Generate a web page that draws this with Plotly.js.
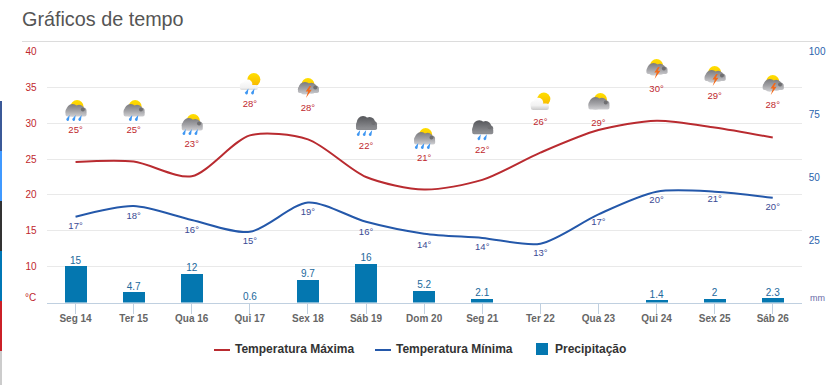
<!DOCTYPE html>
<html><head><meta charset="utf-8">
<script src="https://cdn.plot.ly/plotly-3.0.1.min.js"></script>
<style>html,body{margin:0;padding:0;background:#fff;overflow:hidden}#c{width:837px;height:385px}</style>
</head><body><div id="c"></div>
<script>
const categories=['Seg 14','Ter 15','Qua 16','Qui 17','Sex 18','Sáb 19','Dom 20','Seg 21','Ter 22','Qua 23','Qui 24','Sex 25','Sáb 26'];
const tempMax=[24.6,24.65,22.6,28.3,27.75,22.5,20.75,22.1,25.9,29.05,30.35,29.4,28];
const tempMin=[16.95,18.45,16.5,14.85,18.95,16.25,14.6,14.0,13.2,17.3,20.45,20.45,19.6];
const precip=[15,4.7,12,0.6,9.7,16,5.2,2.1,null,null,1.4,2,2.3];
const maxLabels=[25,25,23,28,28,22,21,22,26,29,30,29,28];
const minLabels=[17,18,16,15,19,16,14,14,13,17,20,21,20];
const maxLabelLevels=[28.98,28.98,27.02,32.6,32.05,26.74,25.07,26.16,30.09,29.95,34.7,33.72,32.46];
const minLabelLevels=[15.58,16.97,15.02,13.49,17.53,14.74,13.0,12.65,11.81,16.14,19.21,19.28,18.23];
const iconKinds=['rainSun3','rainSun2','rainSun3','shower','storm','dark3','rainSun3','dark2','sunCloud','greySun','storm','storm','storm'];
const leftTicks=[10,15,20,25,30,35,40];
const rightTicks=[25,50,75,100];
const seriesNames=['Temperatura Máxima','Temperatura Mínima','Precipitação'];
const stripeColors=['#3b5998','#4099ff','#333333','#0077b5','#cb2027','#cccccc'];

const W=837,H=385,L=46.5,R=801.8,T=51.5,B=302.5;
const fx=p=>p/W, fy=p=>1-p/H;
const font='"Liberation Sans",Arial,sans-serif';
const pxPerCat=(R-L)/13, pxPerDeg=(B-T)/35;

function drops(n,y0){
  const xs=n===3?[4.5,10.5,16.5]:[9,15];
  return xs.map(x=>`<path d="M${x+1.6} ${y0} L${x-1.6} ${y0+3.8} a1.4 1.4 0 0 0 2.5 1.3 z" fill="#3f97f2"/>`).join('');
}
function cloud(fill,bottom,lift){
  const h=bottom-12.5;
  return `<g fill="${fill}"><circle cx="9" cy="${11.8-lift}" r="6.3"/><circle cx="15.5" cy="${11.8-lift}" r="5.5"/><circle cx="19.5" cy="12.5" r="3.5"/><circle cx="5.5" cy="13" r="3.6"/><rect x="2" y="12.5" width="21" height="${h}" rx="1.8"/></g><circle cx="19.3" cy="11" r="2" fill="#6f6f72"/>`;
}
const defs=`<defs><linearGradient id="g" gradientUnits="userSpaceOnUse" x1="0" y1="5" x2="0" y2="18"><stop offset="0" stop-color="#77777b"/><stop offset=".55" stop-color="#a2a2a6"/><stop offset="1" stop-color="#cfcfd2"/></linearGradient><linearGradient id="d" gradientUnits="userSpaceOnUse" x1="0" y1="2" x2="0" y2="16"><stop offset="0" stop-color="#4c4d51"/><stop offset="1" stop-color="#8b8c90"/></linearGradient><linearGradient id="w" gradientUnits="userSpaceOnUse" x1="0" y1="7" x2="0" y2="20"><stop offset="0" stop-color="#ffffff"/><stop offset=".6" stop-color="#f2f2f2"/><stop offset="1" stop-color="#c4c4c4"/></linearGradient><linearGradient id="s" x1="0" y1="0" x2="0" y2="1"><stop offset="0" stop-color="#ffdf00"/><stop offset="1" stop-color="#f8b800"/></linearGradient></defs>`;
const sunTop=cx=>`<circle cx="${cx}" cy="8" r="6.5" fill="url(#s)"/>`;
function iconSvg(k){
  let b='';
  if(k.startsWith('rainSun')) b=sunTop(13.5)+cloud('url(#g)',18,0)+drops(+k.slice(-1),16.5);
  else if(k==='greySun') b=sunTop(14)+cloud('url(#g)',18,0)  ;
  else if(k==='storm') b=sunTop(12)+cloud('url(#g)',16.5,0)+`<path d="M13.5 9.5 L9.8 15 L12.2 15 L10 21.5 L15.8 13.2 L13.2 13.2 L15.2 9.5 z" fill="#f26a1b"/>`;
  else if(k.startsWith('dark')) b=`<g transform="translate(0,-2.5)">`+cloud('url(#d)',18,1.5)+`</g>`+drops(+k.slice(-1),15.5);
  else if(k==='shower') b=`<circle cx="16" cy="7" r="6.5" fill="url(#s)"/><g fill="url(#w)"><circle cx="5.5" cy="13.5" r="3.5"/><circle cx="10" cy="11.5" r="4.5"/><rect x="2" y="12.5" width="18" height="5" rx="2"/></g>`+drops(2,16);
  else if(k==='sunCloud') b=`<circle cx="15.5" cy="8.5" r="6.5" fill="url(#s)"/><g fill="url(#w)"><circle cx="5.5" cy="14" r="3.5"/><circle cx="10" cy="12" r="4.8"/><rect x="2.5" y="13" width="18" height="6.5" rx="2.5"/></g>`;
  const svg=`<svg xmlns="http://www.w3.org/2000/svg" width="24" height="24" viewBox="0 0 24 24">${defs}${b}</svg>`;
  return 'data:image/svg+xml;charset=utf-8,'+encodeURIComponent(svg);
}
const iconSize=24;
const images=iconKinds.map((k,i)=>({source:iconSvg(k),xref:'x',yref:'y',x:i,y:maxLabelLevels[i]+20/pxPerDeg,
  sizex:iconSize/pxPerCat,sizey:iconSize/pxPerDeg,xanchor:'center',yanchor:'middle',sizing:'stretch',layer:'above'}));

const traces=[
 {type:'bar',name:seriesNames[2],x:categories,y:precip,yaxis:'y2',width:22/pxPerCat,marker:{color:'#0477b0',line:{width:0}},hoverinfo:'skip'},
 {type:'scatter',mode:'text',name:'precip labels',x:categories,y:precip,yaxis:'y2',text:precip.map(v=>v===null?'':String(v)),textposition:'top center',
  textfont:{family:font,size:10,color:'#22699c'},cliponaxis:false,hoverinfo:'skip'},
 {type:'scatter',mode:'lines',name:seriesNames[0],x:categories,y:tempMax,line:{color:'#b92b30',width:2,shape:'spline',smoothing:0.8},hoverinfo:'skip'},
 {type:'scatter',mode:'lines',name:seriesNames[1],x:categories,y:tempMin,line:{color:'#2458aa',width:2,shape:'spline',smoothing:0.8},hoverinfo:'skip'},
 {type:'scatter',mode:'text',name:'min labels',x:categories,y:minLabelLevels,text:minLabels.map(v=>v+'°'),textposition:'middle center',
  textfont:{family:font,size:9.5,color:'#3b4a94'},cliponaxis:false,hoverinfo:'skip'},
 {type:'scatter',mode:'text',name:'max labels',x:categories,y:maxLabelLevels,text:maxLabels.map(v=>v+'°'),textposition:'middle center',
  textfont:{family:font,size:9.5,color:'#c0272d'},cliponaxis:false,hoverinfo:'skip'}
];

const shapes=[{type:'line',xref:'paper',yref:'paper',x0:fx(22),x1:fx(820),y0:fy(41.5),y1:fy(41.5),line:{color:'#dcdcdc',width:1}}];
stripeColors.forEach((c,i)=>shapes.push({type:'rect',xref:'paper',yref:'paper',x0:0,x1:fx(2),y0:fy(101+50*i),y1:i===5?0:fy(151+50*i),fillcolor:c,line:{width:0}}));
shapes.push({type:'line',xref:'paper',yref:'paper',x0:fx(214),x1:fx(230),y0:fy(350),y1:fy(350),line:{color:'#b92b30',width:2}});
shapes.push({type:'line',xref:'paper',yref:'paper',x0:fx(375),x1:fx(391),y0:fy(350),y1:fy(350),line:{color:'#2458aa',width:2}});
shapes.push({type:'rect',xref:'paper',yref:'paper',x0:fx(536),x1:fx(548),y0:fy(343),y1:fy(355),fillcolor:'#0477b0',line:{width:0}});

const ann=(t,x,y,size,color,extra)=>Object.assign({text:t,xref:'paper',yref:'paper',x:fx(x),y:fy(y),xanchor:'left',yanchor:'middle',showarrow:false,
  font:{family:font,size:size,color:color}},extra||{});
const annotations=[
 ann('Gráficos de tempo',20,19,19.8,'#555555'),
 ann('°C',23,297.5,10,'#c0272d'),
 ann('mm',808,298,9,'#6a6aa8'),
 ann('<b>'+seriesNames[0]+'</b>',233,349,12,'#333333'),
 ann('<b>'+seriesNames[1]+'</b>',394,349,12,'#333333'),
 ann('<b>'+seriesNames[2]+'</b>',553,349,12,'#333333')
];

const layout={width:W,height:H,margin:{l:0,r:0,t:0,b:0,pad:0},paper_bgcolor:'#fff',plot_bgcolor:'#fff',showlegend:false,bargap:0,
 xaxis:{type:'category',categories:categories,categoryorder:'array',categoryarray:categories,range:[-0.5,12.5],domain:[fx(L),fx(R)],anchor:'y',fixedrange:true,
  showgrid:false,zeroline:false,showline:true,linecolor:'#c0d0e0',linewidth:1,ticks:'outside',ticklen:10,tickcolor:'#c0d0e0',tickwidth:1,ticklabelstandoff:-4,
  tickfont:{family:font,size:10,color:'#666666',weight:'bold'},tickangle:0},
 yaxis:{range:[5,40],domain:[fy(B),fy(T)],anchor:'x',tickmode:'array',tickvals:leftTicks,ticktext:leftTicks.map(String),fixedrange:true,
  showgrid:true,gridcolor:'#e9e9e9',gridwidth:1,zeroline:false,showline:false,ticks:'',ticklabelstandoff:9,
  tickfont:{family:font,size:10,color:'#c0272d'}},
 yaxis2:{range:[0.6,100],overlaying:'y',side:'right',anchor:'x',tickmode:'array',tickvals:rightTicks,ticktext:rightTicks.map(String),fixedrange:true,
  showgrid:false,zeroline:false,showline:false,ticks:'',ticklabelstandoff:6,
  tickfont:{family:font,size:10,color:'#2a63ad'}},
 shapes:shapes,annotations:annotations,images:images
};
Plotly.newPlot('c',traces,layout,{displayModeBar:false,staticPlot:true});
</script></body></html>
